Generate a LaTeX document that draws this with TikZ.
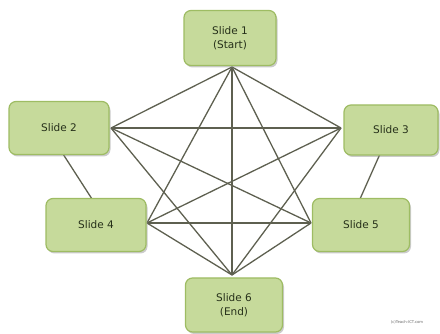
\documentclass[tikz,border=0pt]{standalone}
\usepackage{fontspec}
\setmainfont{DejaVu Sans}
\usetikzlibrary{shadows,backgrounds}
\definecolor{boxfill}{HTML}{C6DA9B}
\definecolor{boxline}{HTML}{9EBC63}
\definecolor{edgecol}{HTML}{5E6050}
\definecolor{txtcol}{HTML}{26301A}
\tikzset{
  slidebox/.style={draw=boxline, line width=1.2pt, fill=boxfill, rounded corners=7pt,
    align=center, font=\fontsize{10.5}{14}\selectfont, text=txtcol,
    drop shadow={shadow xshift=1.5pt, shadow yshift=-2pt, fill=black!45, opacity=.45}},
  link/.style={draw=edgecol, line width=1.3pt}
}
\begin{document}
\begin{tikzpicture}[x=1pt,y=-1pt]
\useasboundingbox (0,0) rectangle (440,334);
\node[slidebox, minimum width=92pt, minimum height=55pt] (s1) at (230,38) {Slide 1\\(Start)};
\node[slidebox, minimum width=100pt, minimum height=53pt] (s2) at (59,128) {Slide 2};
\node[slidebox, minimum width=94pt, minimum height=50pt] (s3) at (391,130) {Slide 3};
\node[slidebox, minimum width=100pt, minimum height=53pt] (s4) at (96,225) {Slide 4};
\node[slidebox, minimum width=97pt, minimum height=53pt] (s5) at (361,225) {Slide 5};
\node[slidebox, minimum width=97pt, minimum height=54pt] (s6) at (234,305) {Slide 6\\(End)};
\node[font=\fontsize{3.8}{4}\selectfont, text=black!60] (wm) at (407,322) {(c)Teach-ICT.com};
\coordinate (p1) at (232,67);
\coordinate (p2) at (111,128);
\coordinate (p3) at (341,128);
\coordinate (p4) at (147,223);
\coordinate (p5) at (311,223);
\coordinate (p6) at (232,275);
\coordinate (a2) at (63,154);
\coordinate (a4) at (92,199);
\coordinate (a3) at (380,154);
\coordinate (a5) at (360,199);
\begin{pgfonlayer}{background}
\foreach \a/\b in {p1/p2,p1/p3,p1/p4,p1/p5,p1/p6,p2/p3,p2/p5,p2/p6,p3/p4,p3/p6,p4/p5,p4/p6,p5/p6}
  \draw[link] (\a) -- (\b);
\draw[link] (a2) -- (a4);
\draw[link] (a3) -- (a5);
\end{pgfonlayer}
\end{tikzpicture}
\end{document}
